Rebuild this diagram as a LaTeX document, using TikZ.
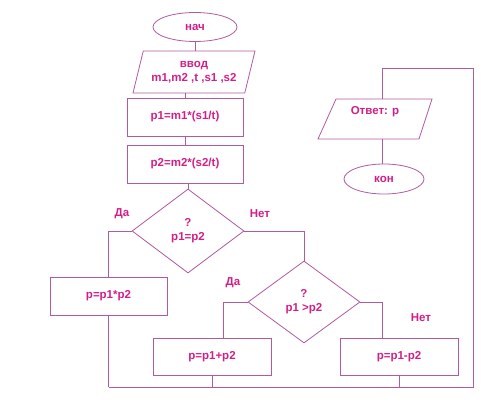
\documentclass[tikz,border=0pt]{standalone}
\usepackage{fontspec}
\setmainfont{Liberation Sans}
\usetikzlibrary{shapes.geometric}
\definecolor{ln}{RGB}{176,90,160}
\definecolor{tx}{RGB}{210,30,135}
\tikzset{
  base/.style={draw=ln, line width=0.8pt, text=tx, font=\fontsize{11.5}{14}\selectfont\bfseries, inner sep=0pt, align=center},
  term/.style={base, ellipse},
  proc/.style={base, rectangle},
  dec/.style={base, diamond},
  io/.style={base, trapezium, trapezium left angle=65, trapezium right angle=115, trapezium stretches body=true},
  conn/.style={draw=ln, line width=0.8pt},
  lbl/.style={text=tx, font=\fontsize{11.5}{14}\selectfont\bfseries, inner sep=0pt}
}
\begin{document}
\begin{tikzpicture}[x=1pt,y=-1pt]
\useasboundingbox (0,0) rectangle (500,403);
\node[term, minimum width=84pt, minimum height=29pt] (start) at (195,27) {нач};
\node[io, minimum width=122pt, minimum height=42pt] (in) at (194,72) {ввод\\m1,m2 ,t ,s1 ,s2};
\node[proc, minimum width=116pt, minimum height=38pt] (r1) at (185,117) {p1=m1*(s1/t)};
\node[proc, minimum width=116pt, minimum height=38pt] (r2) at (185,164) {p2=m2*(s2/t)};
\node[dec, minimum width=112pt, minimum height=84pt] (d1) at (188,231) {?\\p1=p2};
\node[proc, minimum width=117pt, minimum height=38pt] (rA) at (108.5,296) {p=p1*p2};
\node[dec, minimum width=112pt, minimum height=82pt] (d2) at (304,302) {?\\p1 >p2};
\node[proc, minimum width=118pt, minimum height=37pt] (rB) at (212,356.5) {p=p1+p2};
\node[proc, minimum width=118pt, minimum height=37pt] (rC) at (399,356.5) {p=p1-p2};
% output parallelogram
\coordinate (otl) at (336,99);
\coordinate (otr) at (432,99);
\coordinate (obr) at (419,139);
\coordinate (obl) at (318,139);
\draw[conn] (otl) -- (otr) -- (obr) -- (obl) -- cycle;
\coordinate (outtop) at (382,99);
\coordinate (outbot) at (382,139);
\node[lbl] (outt) at (375,112) {Ответ: р};
\node[term, minimum width=80pt, minimum height=30pt] (end) at (384,179) {кон};

\node[lbl] (ya1) at (122,214) {Да};
\node[lbl] (no1) at (260,214) {Нет};
\node[lbl] (ya2) at (233,283) {Да};
\node[lbl] (no2) at (421,318) {Нет};

\coordinate (br) at (473,387);
\coordinate (tr) at (473,68);

\draw[conn] (start.south) -- (start.south |- in.north);
\draw[conn] (r1.north) -- (r1.north |- in.south);
\draw[conn] (r1.south) -- (r2.north);
\draw[conn] (d1.north) -- (d1.north |- r2.south);
\draw[conn] (d1.west) -| (rA.north);
\draw[conn] (d1.east) -| (d2.north);
\draw[conn] (d2.west) -| ([xshift=11pt]rB.north);
\draw[conn] (d2.east) -| ([xshift=-17pt]rC.north);
\draw[conn] (rA.south) -- (rA.south |- br);
\draw[conn] (rB.south) -- (rB.south |- br);
\draw[conn] (rC.south) -- (rC.south |- br);
\draw[conn] (rA.south |- br) -- (br) -- (tr) -| (outtop);
\draw[conn] (outbot) -- (outbot |- end.north);
\end{tikzpicture}
\end{document}
